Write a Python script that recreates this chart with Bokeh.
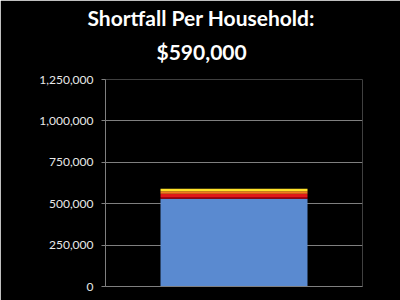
from bokeh.plotting import figure
from bokeh.models import NumeralTickFormatter, FixedTicker, ColumnDataSource, Title
from bokeh.embed import file_html
from bokeh.resources import INLINE

category = ["Shortfall"]
segment_names = ["base", "dark red", "red", "orange", "yellow"]
segment_values = [530000, 10000, 20000, 15000, 15000]
segment_colors = ["#5A8AD0", "#A80010", "#E01818", "#F47A1E", "#FFE22A"]
y_ticks = [0, 250000, 500000, 750000, 1000000, 1250000]
title_lines = ["Shortfall Per Household:", "$590,000"]
title_offsets = [-18, 51]

data = {"x": category}
for n, v in zip(segment_names, segment_values):
    data[n] = [v]
src = ColumnDataSource(data)

p = figure(width=400, height=300, x_range=category, y_range=(0, 1250000),
           output_backend="svg", toolbar_location=None, title=None,
           min_border_left=105, min_border_right=38, min_border_top=79, min_border_bottom=14)
p.background_fill_color = "black"
p.border_fill_color = "black"
p.outline_line_color = None

p.vbar_stack(segment_names, x="x", width=0.572, color=segment_colors, source=src, line_color=None)

# small spacer between the plot area and the title lines
p.add_layout(Title(text=" ", text_font_size="1px", standoff=6, text_color="black"), "above")

for i, (line, off) in enumerate(reversed(list(zip(title_lines, title_offsets)))):
    t = Title(text=line, text_color="white", text_font="Lato", text_font_size="21px",
              text_font_style="bold", align="left", offset=off,
              standoff=14 if i == 0 else 0)
    p.add_layout(t, "above")

p.xgrid.grid_line_color = None
p.ygrid.grid_line_color = "#7f7f7f"
p.ygrid.ticker = FixedTicker(ticks=y_ticks)

p.yaxis.ticker = FixedTicker(ticks=y_ticks)
p.yaxis.formatter = NumeralTickFormatter(format="0,0")
p.yaxis.major_label_text_color = "#e8e8e8"
p.yaxis.major_label_text_font = "Lato"
p.yaxis.major_label_text_font_size = "12px"
p.yaxis.axis_line_color = "#7f7f7f"
p.yaxis.major_tick_line_color = "#7f7f7f"
p.yaxis.major_tick_out = 4
p.yaxis.major_tick_in = 0
p.yaxis.minor_tick_line_color = None
p.yaxis.major_label_standoff = 8

p.xaxis.axis_line_color = "#7f7f7f"
p.xaxis.major_tick_line_color = None
p.xaxis.minor_tick_line_color = None
p.xaxis.major_label_text_font_size = "0px"
p.xaxis.major_label_text_color = None

open("out.html", "w").write(file_html(p, INLINE))
